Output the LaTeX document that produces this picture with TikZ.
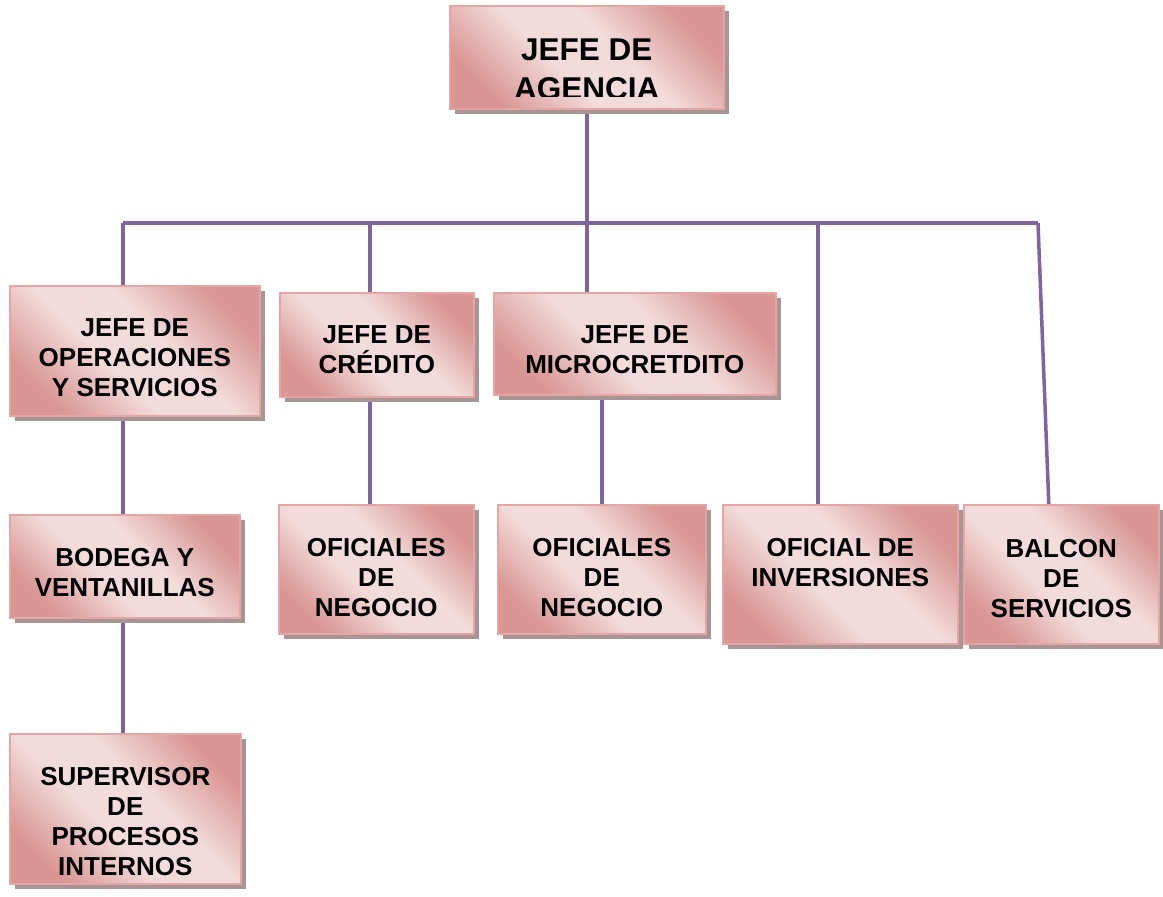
\documentclass[tikz,border=0pt]{standalone}
\usepackage{fontspec}
\setmainfont{Liberation Sans}
\usetikzlibrary{shadows,backgrounds}

\definecolor{rosedark}{HTML}{D99694}
\definecolor{roselight}{HTML}{F2DCDB}
\definecolor{roseline}{HTML}{E4A6A5}
\definecolor{boxshadow}{HTML}{A99494}
\definecolor{linkpurple}{HTML}{8064A2}

% diagonal band: dark corners, wide light stripe through the middle
\pgfdeclarehorizontalshading{roseband}{100bp}{%
  color(0bp)=(rosedark); color(25bp)=(rosedark); color(43bp)=(roselight);
  color(57bp)=(roselight); color(75bp)=(rosedark); color(100bp)=(rosedark)}

\tikzset{
  orgbox/.style={draw=roseline, line width=1.6pt, shading=roseband, shading angle=45,
    general shadow={fill=boxshadow, shadow xshift=5pt, shadow yshift=-5pt},
    inner sep=0pt, anchor=north west},
  orgtext/.style={font=\bfseries\fontsize{26}{30}\selectfont, align=center,
    anchor=base, inner sep=0pt},
  toptext/.style={orgtext, font=\bfseries\fontsize{31.5}{39}\selectfont},
  link/.style={draw=linkpurple, line width=3.5pt}
}

\begin{document}
\begin{tikzpicture}[x=1pt, y=-1pt]
\useasboundingbox (0,0) rectangle (1163,897);

% boxes
\node[orgbox, minimum width=274pt, minimum height=103pt] (agencia) at (449,5) {};
\node[orgbox, minimum width=250pt, minimum height=130pt] (oper) at (9,285) {};
\node[orgbox, minimum width=194pt, minimum height=104pt] (credito) at (279,292) {};
\node[orgbox, minimum width=282pt, minimum height=102pt] (micro) at (493,292) {};
\node[orgbox, minimum width=230pt, minimum height=103pt] (bodega) at (9,514) {};
\node[orgbox, minimum width=195pt, minimum height=129pt] (ofic1) at (278,504) {};
\node[orgbox, minimum width=208pt, minimum height=129pt] (ofic2) at (497,504) {};
\node[orgbox, minimum width=235pt, minimum height=139pt] (inv) at (722,504) {};
\node[orgbox, minimum width=195pt, minimum height=139pt] (balcon) at (963,504) {};
\node[orgbox, minimum width=231pt, minimum height=150pt] (superv) at (9,733) {};

% labels (anchored on the baseline of their last line)
\begin{scope}
  \clip (449,5) rectangle (723,96);
  \node[toptext] (agenciaT) at ([yshift=-94pt]agencia.north) {JEFE DE\\AGENCIA};
\end{scope}
\node[orgtext] (operT) at ([yshift=-111pt]oper.north) {JEFE DE\\OPERACIONES\\Y SERVICIOS};
\node[orgtext] (creditoT) at ([yshift=-81pt]credito.north) {JEFE DE\\CRÉDITO};
\node[orgtext] (microT) at ([yshift=-81pt]micro.north) {JEFE DE\\MICROCRETDITO};
\node[orgtext] (bodegaT) at ([yshift=-82pt]bodega.north) {BODEGA Y\\VENTANILLAS};
\node[orgtext] (ofic1T) at ([yshift=-112pt]ofic1.north) {OFICIALES\\DE\\NEGOCIO};
\node[orgtext] (ofic2T) at ([yshift=-112pt]ofic2.north) {OFICIALES\\DE\\NEGOCIO};
\node[orgtext] (invT) at ([yshift=-82pt]inv.north) {OFICIAL DE\\INVERSIONES};
\node[orgtext] (balconT) at ([yshift=-113pt]balcon.north) {BALCON\\DE\\SERVICIOS};
\node[orgtext] (supervT) at ([yshift=-142pt]superv.north) {SUPERVISOR\\DE\\PROCESOS\\INTERNOS};

% bus and taps
\coordinate (busL) at (123,223);
\coordinate (busR) at (1038,223);
\coordinate (tapCred) at (370,223);
\coordinate (tapInv) at (818,223);

\begin{pgfonlayer}{background}
  \fill[white] (0,0) rectangle (1163,897);
  \draw[link] (agencia.south) -- (agencia.south |- micro.north);
  \draw[link] (busL) -- (busR);
  \draw[link] (busL) -- (busL |- oper.north);
  \draw[link] (oper.south -| busL) -- (bodega.north -| busL);
  \draw[link] (bodega.south -| busL) -- (superv.north -| busL);
  \draw[link] (tapCred) -- (tapCred |- credito.north);
  \draw[link] (credito.south -| tapCred) -- (ofic1.north -| tapCred);
  \draw[link] (ofic2.north |- micro.south) -- (ofic2.north);
  \draw[link] (tapInv) -- (tapInv |- inv.north);
  \draw[link] (busR) -- ([xshift=-12.5pt]balcon.north);
\end{pgfonlayer}
\end{tikzpicture}
\end{document}
